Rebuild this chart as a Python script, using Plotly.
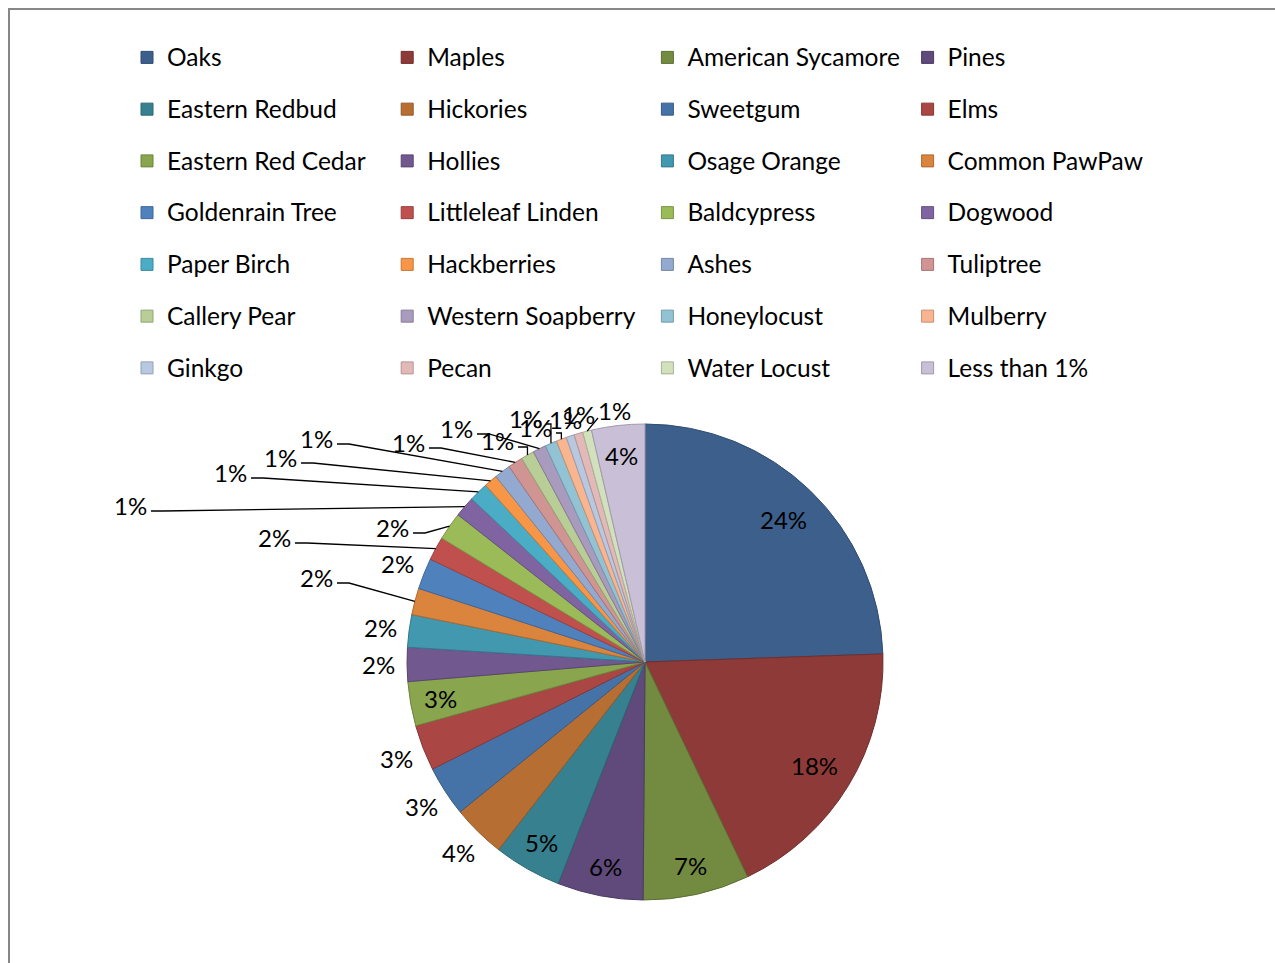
import math
import plotly.graph_objects as go

# Tree inventory: share of each species group (percent of all trees)
species = [
    "Oaks", "Maples", "American Sycamore", "Pines",
    "Eastern Redbud", "Hickories", "Sweetgum", "Elms",
    "Eastern Red Cedar", "Hollies", "Osage Orange", "Common PawPaw",
    "Goldenrain Tree", "Littleleaf Linden", "Baldcypress", "Dogwood",
    "Paper Birch", "Hackberries", "Ashes", "Tuliptree",
    "Callery Pear", "Western Soapberry", "Honeylocust", "Mulberry",
    "Ginkgo", "Pecan", "Water Locust", "Less than 1%",
]
share = [
    24.4, 18.4, 7.2, 5.8,
    4.6, 3.6, 3.4, 3.1,
    3.0, 2.3, 2.2, 1.8,
    2.1, 1.6, 1.9, 1.4,
    1.3, 0.9, 1.1, 1.0,
    0.9, 0.9, 0.8, 0.7,
    0.55, 0.6, 0.6, 3.6,
]

# Office-style palette: dark shades, base accents, then light tints
fill_colors = [
    "#3C5F8C", "#8E3A38", "#728B41", "#5F4A7B",
    "#36808F", "#B76E33", "#4572A7", "#AA4643",
    "#89A54E", "#71588F", "#4198AF", "#DB843D",
    "#4F81BD", "#C0504D", "#9BBB59", "#8064A2",
    "#4BACC6", "#F79646", "#93A9CF", "#D09493",
    "#B9CD96", "#A99BBD", "#92C3D5", "#F9B590",
    "#B9C8E1", "#E3B9B8", "#D3E0BE", "#C9C0D8",
]

# Labels drawn inside their slice
inside_labels = {"Oaks", "Maples", "American Sycamore", "Pines",
                 "Eastern Redbud", "Eastern Red Cedar", "Less than 1%"}
# Labels moved away from crowded slices: (x px, y px, draw leader line)
callouts = {
    "Common PawPaw": (316, 577, True),
    "Littleleaf Linden": (274, 537, True),
    "Baldcypress": (392, 527, True),
    "Dogwood": (130, 505, True),
    "Paper Birch": (230, 472, True),
    "Hackberries": (280, 457, True),
    "Ashes": (316, 438, True),
    "Tuliptree": (408, 442, True),
    "Callery Pear": (497, 441, True),
    "Western Soapberry": (456, 428, True),
    "Honeylocust": (525, 418, True),
    "Mulberry": (535, 427, True),
    "Ginkgo": (565, 419, False),
    "Pecan": (578, 414, False),
    "Water Locust": (614, 410, True),
}

W, H = 1275, 963
CX, CY, R = 645, 662, 238
FONT = "Lato"
LABEL_SIZE = 24


def shade(hex_color, f=0.8):
    r, g, b = (int(hex_color[i:i + 2], 16) for i in (1, 3, 5))
    return "#{:02X}{:02X}{:02X}".format(int(r * f), int(g * f), int(b * f))


def px_to_paper(x, y):
    return x / W, 1 - y / H


total = sum(share)
legend_names = [f"<span style='font-size:24.5px;baseline-shift:6px'>{s}</span>" for s in species]

fig = go.Figure(go.Pie(
    labels=legend_names,
    values=share,
    sort=False,
    direction="clockwise",
    rotation=0,
    textinfo="none",
    hoverinfo="label+percent",
    marker=dict(colors=fill_colors,
                line=dict(color=[shade(c) for c in fill_colors], width=1)),
    domain=dict(x=[(CX - R) / W, (CX + R) / W],
                y=[1 - (CY + R) / H, 1 - (CY - R) / H]),
))

annotations = []
shapes = []
cum = 0.0
for name, v in zip(species, share):
    mid = math.radians((cum + v / 2) / total * 360)
    cum += v
    pct = f"{round(100 * v / total):.0f}%"
    sx, sy = math.sin(mid), -math.cos(mid)
    rim_x, rim_y = CX + R * sx, CY + R * sy

    if name in callouts:
        tx, ty, line = callouts[name]
        if line:
            if rim_x > tx + 20:
                x0, y0 = tx + 21, ty + 6
                xe = min(tx + 33, rim_x)
                path = f"M {x0/W},{1-y0/H} L {xe/W},{1-y0/H} L {rim_x/W},{1-rim_y/H}"
            elif rim_x < tx - 20:
                x0, y0 = tx - 16, ty + 8
                path = f"M {x0/W},{1-y0/H} L {rim_x/W},{1-rim_y/H}"
            else:
                x0, y0 = tx, ty + 10
                path = f"M {x0/W},{1-y0/H} L {rim_x/W},{1-rim_y/H}"
            shapes.append(dict(type="path", xref="paper", yref="paper", path=path,
                               line=dict(color="black", width=1.3)))
    elif name in inside_labels:
        k = 0.835 if v > 15 else 0.875
        tx, ty = CX + k * R * sx, CY + k * R * sy
    else:
        tx, ty = CX + 1.12 * R * sx, CY + 1.12 * R * sy

    ax, ay = px_to_paper(tx, ty)
    annotations.append(dict(x=ax, y=ay, xref="paper", yref="paper", text=pct,
                            showarrow=False, xanchor="center", yanchor="middle",
                            font=dict(family=FONT, size=LABEL_SIZE, color="black")))

# chart-area frame
shapes.append(dict(type="rect", xref="paper", yref="paper",
                   x0=9 / W, x1=1.2, y0=-0.2, y1=1 - 9 / H,
                   line=dict(color="#878787", width=2)))

fig.update_layout(
    width=W, height=H,
    margin=dict(l=0, r=0, t=0, b=0),
    paper_bgcolor="white",
    plot_bgcolor="white",
    font=dict(family=FONT, color="black"),
    showlegend=True,
    legend=dict(orientation="h", x=127 / W, xanchor="left",
                y=1 - 26.5 / H, yanchor="top",
                entrywidth=215.2, entrywidthmode="pixels",
                font=dict(family=FONT, size=37.5, color="black"),
                bgcolor="rgba(0,0,0,0)", traceorder="normal"),
    annotations=annotations,
    shapes=shapes,
)

fig.write_html("out.html")
